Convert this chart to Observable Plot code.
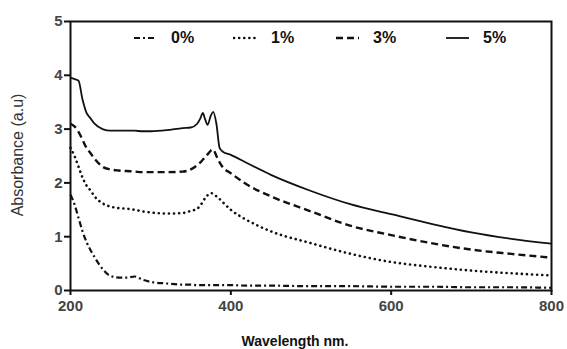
<!DOCTYPE html>
<html><head><meta charset="utf-8">
<script src="https://cdn.jsdelivr.net/npm/d3@7"></script>
<script src="https://cdn.jsdelivr.net/npm/@observablehq/plot@0.6"></script>
<style>
body{margin:0;background:#fff;font-family:"Liberation Sans",Arial,sans-serif;}
#wrap{position:relative;width:567px;height:349px;overflow:hidden;}
#ylab{position:absolute;left:18px;top:155px;transform:translate(-50%,-50%) rotate(-90deg);font-size:16px;color:#333;white-space:nowrap;}
#xlab{position:absolute;left:295px;top:346px;transform:translate(-50%,-80%);font-size:14px;font-weight:bold;color:#111;white-space:nowrap;}
.leg{position:absolute;top:38px;transform:translateY(-50%);display:flex;align-items:center;font-size:16px;font-weight:bold;color:#111;}
.leg svg{margin-right:13px;}
</style></head>
<body><div id="wrap"></div>
<script>
const wavelength = [200,205,210,215,220,225,230,240,250,260,270,280,290,300,320,340,350,358,362,365,368,371,375,378,382,386,390,400,420,450,500,550,600,650,700,750,800];
const abs0 = [1.78,1.6,1.35,1.1,0.9,0.75,0.62,0.4,0.27,0.24,0.24,0.26,0.2,0.16,0.13,0.11,0.11,0.1,0.1,0.1,0.1,0.1,0.1,0.1,0.1,0.1,0.1,0.1,0.09,0.09,0.08,0.08,0.07,0.07,0.06,0.06,0.05];
const abs1 = [2.65,2.5,2.3,2.1,1.95,1.86,1.75,1.62,1.56,1.53,1.52,1.5,1.47,1.45,1.43,1.44,1.48,1.52,1.58,1.65,1.72,1.77,1.81,1.8,1.75,1.7,1.64,1.5,1.31,1.1,0.88,0.68,0.53,0.44,0.37,0.32,0.28];
const abs3 = [3.1,3.05,2.95,2.8,2.65,2.55,2.45,2.3,2.25,2.23,2.22,2.21,2.2,2.2,2.2,2.21,2.25,2.33,2.38,2.43,2.48,2.53,2.6,2.62,2.5,2.38,2.29,2.18,1.97,1.75,1.47,1.2,1.03,0.88,0.76,0.68,0.61];
const abs5 = [3.95,3.93,3.9,3.55,3.3,3.2,3.1,3.0,2.97,2.97,2.97,2.97,2.96,2.96,2.98,3.02,3.03,3.1,3.2,3.3,3.18,3.08,3.25,3.32,3.1,2.65,2.58,2.52,2.37,2.15,1.85,1.6,1.42,1.24,1.08,0.96,0.87];
const seriesNames = ["0%","1%","3%","5%"];
const seriesValues = [abs0,abs1,abs3,abs5];
const xTicks = [200,400,600,800];
const yTicks = [0,1,2,3,4,5];

const styles = {
  "0%": {dash:"6,3,2,3", width:2.2, cap:"butt"},
  "1%": {dash:"0.1,5", width:2.6, cap:"round"},
  "3%": {dash:"7,4", width:2.4, cap:"butt"},
  "5%": {dash:null, width:1.8, cap:"butt"}
};

const rows = [];
seriesNames.forEach((s,i)=>wavelength.forEach((w,j)=>rows.push({series:s,w,a:seriesValues[i][j]})));

const marks = [
  Plot.frame({stroke:"#111", strokeWidth:2}),
  Plot.axisX({ticks:xTicks, tickSize:5, tickPadding:5, tickFormat:d=>String(d), fontSize:15, fontWeight:"bold", fill:"#444", stroke:"#111", strokeWidth:2, label:null}),
  Plot.axisY({ticks:yTicks, tickSize:6, tickPadding:2, tickFormat:d=>String(d), fontSize:15, fontWeight:"bold", fill:"#444", stroke:"#111", strokeWidth:2, label:null}),
  ...seriesNames.map(s=>Plot.line(rows.filter(r=>r.series===s),{x:"w",y:"a",stroke:"#111",strokeWidth:styles[s].width,strokeDasharray:styles[s].dash,strokeLinecap:styles[s].cap,curve:"monotone-x"}))
];

const chart = Plot.plot({
  width:567, height:349,
  marginLeft:70, marginRight:16, marginTop:21, marginBottom:59,
  x:{domain:[200,800]},
  y:{domain:[0,5]},
  style:{fontFamily:"Liberation Sans, Arial, sans-serif", background:"#fff"},
  marks
});
const wrap = document.getElementById("wrap");
wrap.appendChild(chart);

const yl = document.createElement("div"); yl.id="ylab"; yl.textContent="Absorbance (a.u)"; wrap.appendChild(yl);
const xl = document.createElement("div"); xl.id="xlab"; xl.textContent="Wavelength nm."; wrap.appendChild(xl);

const legendX = [133,233,335,445];
seriesNames.forEach((s,i)=>{
  const d = document.createElement("div"); d.className="leg"; d.style.left=legendX[i]+"px";
  const st = styles[s];
  d.innerHTML = `<svg width="25" height="6"><line x1="1" y1="3" x2="24" y2="3" stroke="#111" stroke-width="${st.width}" ${st.dash?`stroke-dasharray="${st.dash}"`:""} stroke-linecap="${st.cap}"/></svg><span>${s}</span>`;
  wrap.appendChild(d);
});
</script></body></html>
